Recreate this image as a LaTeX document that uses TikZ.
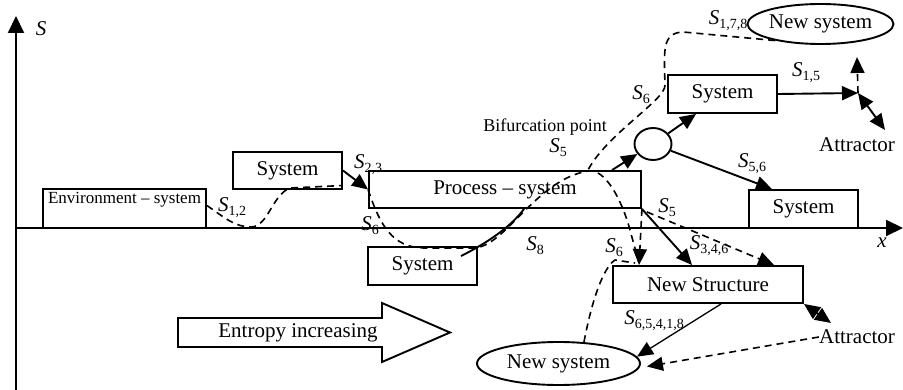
\documentclass[tikz,border=0pt]{standalone}
\usepackage{fontspec}
\setmainfont{Liberation Serif}
\usetikzlibrary{arrows.meta,calc,shapes.geometric}
\newcommand{\mySlab}[1]{\textit{S}\raisebox{-4pt}{\fontsize{14}{14}\selectfont #1}}
\begin{document}
\begin{tikzpicture}[x=1pt,y=-1pt,
  box/.style={draw, line width=1.9pt, inner sep=0pt, font=\fontsize{21}{24}\selectfont},
  ell/.style={draw, ellipse, line width=1.9pt, inner sep=0pt, font=\fontsize{21}{24}\selectfont},
  conn/.style={line width=1.9pt, -{Triangle[length=16pt,width=14pt]}},
  thinconn/.style={line width=1.3pt, -{Triangle[length=16pt,width=14pt]}},
  dconn/.style={line width=1.6pt, dash pattern=on 7pt off 5pt, -{Triangle[length=16pt,width=14pt]}},
  dline/.style={line width=1.6pt, dash pattern=on 7pt off 5pt},
  dbl/.style={line width=1.9pt, {Triangle[length=16pt,width=14pt]}-{Triangle[length=16pt,width=14pt]}},
  lab/.style={inner sep=0pt, font=\fontsize{21}{24}\selectfont},
  axis/.style={line width=2pt, -{Triangle[length=17pt,width=16pt]}}]
\useasboundingbox (0,0) rectangle (903,390);

% axes
\coordinate (ybot) at (16,390);
\coordinate (ytop) at (16,16);
\coordinate (orig) at (16,228);
\coordinate (xend) at (903,228);
\draw[axis] (ybot) -- (ytop);
\draw[axis] (orig) -- (xend);
\node[lab] (Sax) at (41,29) {\textit{S}};
\node[lab] (xax) at (882,243) {\textit{x}};

% boxes
\node[box, minimum width=163pt, minimum height=39pt,
  label={[anchor=north, inner sep=0pt, yshift=-4pt, font=\fontsize{17}{20}\selectfont]north:Environment -- system}]
  (env) at (124.5,208.5) {};
\node[box, minimum width=109pt, minimum height=37pt] (sysA) at (287.5,170.5) {System};
\node[box, minimum width=272pt, minimum height=37pt] (proc) at (505,189.5) {Process -- system};
\node[box, minimum width=109pt, minimum height=38pt] (sysB) at (422.5,266) {System};
\node[draw, ellipse, line width=1.9pt, minimum width=37pt, minimum height=32pt, inner sep=0pt] (bif) at (653,144) {};
\node[box, minimum width=109pt, minimum height=38pt] (sysC) at (722.5,94) {System};
\node[ell, minimum width=145pt, minimum height=40pt] (newTop) at (820.5,24) {New system};
\node[box, minimum width=109pt, minimum height=38pt] (sysD) at (803.5,209) {System};
\node[box, minimum width=190pt, minimum height=37pt] (newS) at (708,284.5) {New Structure};
\node[ell, minimum width=163pt, minimum height=43pt] (newBot) at (558.5,363.5) {New system};

% text labels
\node[lab] (attrTop) at (857,145) {Attractor};
\node[lab] (attrBot) at (857,337) {Attractor};
\node[lab, font=\fontsize{18}{20}\selectfont] (bifText) at (545,127) {Bifurcation point};
\node[lab] (l12) at (232,208) {\mySlab{1,2}};
\node[lab] (l23) at (368,165) {\mySlab{2,3}};
\node[lab] (l6a) at (370,226) {\mySlab{6}};
\node[lab] (l8) at (535,246) {\mySlab{8}};
\node[lab] (l5a) at (558,148) {\mySlab{5}};
\node[lab] (l6b) at (641,95) {\mySlab{6}};
\node[lab] (l178) at (728,21) {\mySlab{1,7,8}};
\node[lab] (l15) at (806,73) {\mySlab{1,5}};
\node[lab] (l56) at (752,164) {\mySlab{5,6}};
\node[lab] (l5b) at (667,208) {\mySlab{5}};
\node[lab] (l346) at (709,246) {\mySlab{3,4,6}};
\node[lab] (l6c) at (614,248) {\mySlab{6}};
\node[lab] (l65418) at (654,321) {\mySlab{6,5,4,1,8}};

% entropy arrow
\draw[line width=1.9pt] (178,318) -- (382,318) -- (382,303) -- (450,332.5) -- (382,362) -- (382,347) -- (178,347) -- cycle;
\node[lab] (ent) at (298,333) {Entropy increasing};

% coordinates
\coordinate (J) at (858,93);
\coordinate (J2) at (857,57);
\coordinate (attrTopEnd) at (885,130);
\coordinate (attrBotEnd) at (831,323);

% solid connectors
\draw[conn] (sysA.east) -- (proc.west);
\draw[line width=1.9pt] ($(sysB.north east)+(-17,10)$) .. controls (485,244) and (510,228) .. ($(proc.south west)+(156,0)$);
\draw[conn] ($(proc.north west)+(244,0)$) -- (bif);
\draw[conn] (bif) -- ($(sysC.south west)+(29,0)$);
\draw[conn] (sysC.east) -- (J);
\draw[dconn] (J) -- (J2);
\draw[dbl] (J) -- (attrTopEnd);
\draw[conn] (bif) -- ($(sysD.north west)+(24,0)$);
\draw[conn] (proc.south east) -- ($(newS.north west)+(80,0)$);
\draw[dconn] (proc.south east) -- ($(newS.north west)+(27,0)$);
\draw[dconn] ($(proc.south east)+(5,3)$) -- ($(newS.north west)+(162,0)$);
\draw[thinconn] ($(newS.south west)+(109,0)$) -- (newBot.5);
\draw[dconn] (attrBot.west) -- ($(newBot.east)+(6,3)$);
\draw[dbl] (newS.south east) -- (attrBotEnd);

% dashed curves
\draw[dline] ($(env.east)+(0,-3)$) .. controls (225,218) and (235,227) .. (251,227)
  .. controls (268,227) and (272,195) .. (290,188) -- ($(sysA.east)+(0,15)$);
\draw[dline] (proc.west) .. controls (380,225) and (392,248) .. (425,248) -- (473,248)
  .. controls (505,248) and (535,180) .. (588,171)
  .. controls (605,168) and (622,200) .. (630,230)
  .. controls (634,245) and (637,255) .. ($(newS.north west)+(27,-2)$);
\draw[dline] (newTop.200) -- (683,32) .. controls (662,33) and (664,50) .. (665,85)
  .. controls (666,100) and (605,135) .. (587,172);
\draw[dline] (newBot.40) .. controls (592,300) and (603,268) .. (615,260) -- ($(newS.north west)+(23,-2)$);
\end{tikzpicture}
\end{document}
